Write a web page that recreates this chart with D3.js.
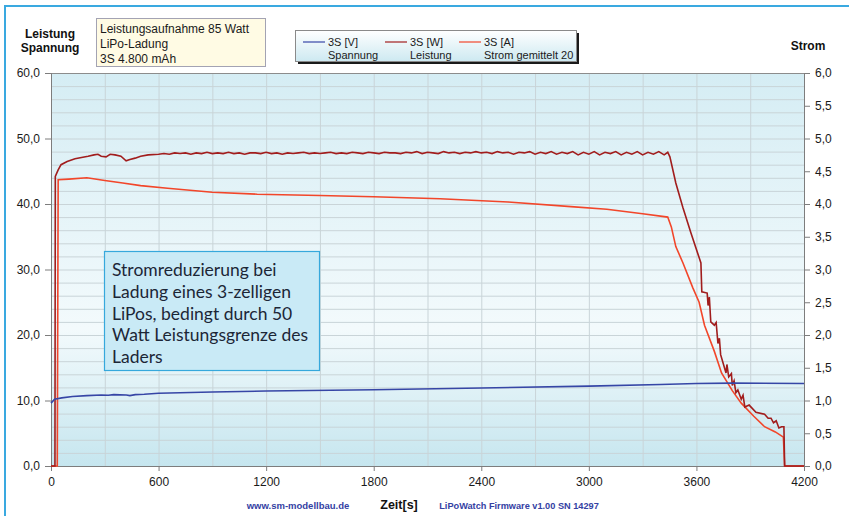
<!DOCTYPE html>
<html>
<head>
<meta charset="utf-8">
<script src="https://cdn.jsdelivr.net/npm/d3@7"></script>
<style>
  body { margin: 0; background: #fff; }
  svg { display: block; font-family: "Liberation Sans", Arial, sans-serif; }
</style>
</head>
<body>
<div id="chart"></div>
<script>
// Zeit [s] / Wert
var spannung = [
  [0, 9.6], [20, 10.2], [60, 10.4], [120, 10.6], [200, 10.75], [280, 10.85], [320, 10.8],
  [350, 10.9], [420, 10.85], [440, 10.75], [470, 10.9], [520, 10.95], [600, 11.1],
  [900, 11.3], [1200, 11.45], [1800, 11.65], [2400, 11.9], [3000, 12.2], [3400, 12.45],
  [3600, 12.6], [3800, 12.65], [4200, 12.6]
];

var leistung = [
  [0, 0], [22, 0], [24, 44.2], [40, 45.2], [56, 46.0], [90, 46.5], [134, 46.9], [170, 47.1],
  [207, 47.3], [240, 47.5], [262, 47.6], [280, 47.3], [307, 47.2], [330, 47.6], [357, 47.5],
  [390, 47.3], [419, 46.6], [440, 46.8], [469, 47.0], [500, 47.3], [542, 47.5], [600, 47.6],
  [630, 47.7], [660, 47.6], [690, 47.8], [720, 47.7], [750, 47.8], [780, 47.6], [810, 47.8],
  [840, 47.7], [870, 47.9], [900, 47.7], [930, 47.8], [960, 47.7], [990, 47.9], [1020, 47.7],
  [1050, 47.8], [1080, 47.6], [1110, 47.8], [1140, 47.8], [1170, 47.7], [1200, 47.9],
  [1230, 47.7], [1260, 47.8], [1290, 47.6], [1320, 47.8], [1350, 47.7], [1380, 47.8],
  [1410, 47.9], [1440, 47.7], [1470, 47.8], [1500, 47.7], [1530, 47.8], [1560, 47.9],
  [1590, 47.7], [1620, 47.8], [1650, 47.7], [1680, 47.9], [1710, 47.8], [1740, 47.7],
  [1770, 47.9], [1800, 47.8], [1830, 47.7], [1860, 47.9], [1890, 47.8], [1920, 47.8],
  [1950, 47.7], [1980, 47.9], [2010, 47.8], [2040, 48.0], [2070, 47.7], [2100, 47.9],
  [2130, 47.8], [2160, 47.7], [2190, 48.0], [2220, 47.8], [2250, 47.9], [2280, 47.7],
  [2310, 47.9], [2340, 47.8], [2370, 48.0], [2400, 47.8], [2430, 47.9], [2460, 47.7],
  [2490, 48.0], [2520, 47.8], [2550, 47.9], [2580, 47.6], [2610, 47.9], [2640, 47.8],
  [2670, 48.0], [2700, 47.6], [2730, 47.9], [2760, 47.7], [2790, 48.0], [2820, 47.6],
  [2850, 47.9], [2880, 47.7], [2910, 48.0], [2940, 47.5], [2970, 47.9], [3000, 47.6],
  [3030, 48.0], [3060, 47.5], [3090, 47.9], [3120, 47.7], [3150, 48.0], [3180, 47.5],
  [3210, 47.9], [3240, 47.6], [3270, 48.0], [3300, 47.5], [3330, 47.9], [3360, 47.6],
  [3390, 48.0], [3420, 47.5], [3440, 47.9],
  [3452, 47.2], [3485, 43.2], [3524, 39.5], [3569, 35.6], [3614, 31.9], [3625, 31.0],
  [3630, 26.6], [3660, 26.4], [3665, 24.5], [3672, 25.8], [3680, 22.0], [3700, 21.5],
  [3710, 21.9], [3720, 18.7], [3728, 19.5], [3735, 17.0], [3765, 14.2], [3770, 15.5],
  [3780, 13.6], [3795, 14.1], [3800, 12.3], [3810, 13.0], [3820, 11.2], [3831, 11.6],
  [3850, 10.2], [3860, 10.8], [3870, 9.0], [3894, 9.3], [3932, 8.2], [3980, 7.9],
  [4000, 7.3], [4016, 7.3], [4030, 6.6], [4045, 6.9], [4060, 5.8], [4075, 6.0],
  [4088, 6.0], [4092, 0], [4200, 0]
];

var strom = [
  [0, 0], [35, 0], [40, 4.37], [100, 4.38], [200, 4.40], [300, 4.36], [400, 4.32],
  [500, 4.28], [650, 4.24], [900, 4.18], [1150, 4.15], [1500, 4.13], [1800, 4.11],
  [2170, 4.08], [2550, 4.03], [2900, 3.96], [3100, 3.92], [3300, 3.85], [3440, 3.80],
  [3460, 3.65], [3485, 3.35], [3525, 3.10], [3580, 2.72], [3615, 2.50], [3645, 2.15],
  [3700, 1.75], [3740, 1.42], [3800, 1.15], [3850, 0.96], [3920, 0.76], [3980, 0.60],
  [4040, 0.52], [4085, 0.44], [4092, 0], [4200, 0]
];

var xTicks = [0, 600, 1200, 1800, 2400, 3000, 3600, 4200];
var leftTicks = [0, 10, 20, 30, 40, 50, 60];
var rightTicks = [0, 0.5, 1, 1.5, 2, 2.5, 3, 3.5, 4, 4.5, 5, 5.5, 6];

var infoLines = ["Leistungsaufnahme 85 Watt", "LiPo-Ladung", "3S 4.800 mAh"];
var noteLines = ["Stromreduzierung bei", "Ladung eines 3-zelligen", "LiPos, bedingt durch 50",
  "Watt Leistungsgrenze des", "Laders"];
var legendItems = [
  {name: "3S [V]", sub: "Spannung", color: "#3646a6"},
  {name: "3S [W]", sub: "Leistung", color: "#a11d1d"},
  {name: "3S [A]", sub: "Strom gemittelt 20", color: "#f2462a"}
];

var width = 849, height = 516;
var plot = {left: 51, right: 804, top: 73, bottom: 466};

var svg = d3.select("#chart").append("svg")
  .attr("width", width)
  .attr("height", height);

var x = d3.scaleLinear().domain([0, 4200]).range([plot.left, plot.right]);
var yL = d3.scaleLinear().domain([0, 60]).range([plot.bottom, plot.top]);
var yR = d3.scaleLinear().domain([0, 6]).range([plot.bottom, plot.top]);
var fmt = d3.format(".1f");
var comma = function(v) { return fmt(v).replace(".", ","); };

// outer frame
svg.append("path")
  .attr("d", "M5," + height + "V6H" + width)
  .attr("fill", "none")
  .attr("stroke", "#3aa9e0")
  .attr("stroke-width", 2);

// plot background
var defs = svg.append("defs");
var bg = defs.append("linearGradient").attr("id", "bg")
  .attr("x1", 0).attr("y1", 0).attr("x2", 0).attr("y2", 1);
bg.append("stop").attr("offset", "0%").attr("stop-color", "#d5edf4");
bg.append("stop").attr("offset", "65%").attr("stop-color", "#f3fafc");
bg.append("stop").attr("offset", "100%").attr("stop-color", "#c6e6ef");

var lg = defs.append("linearGradient").attr("id", "lg")
  .attr("x1", 0).attr("y1", 0).attr("x2", 0).attr("y2", 1);
lg.append("stop").attr("offset", "0%").attr("stop-color", "#ffffff");
lg.append("stop").attr("offset", "100%").attr("stop-color", "#cde9f1");

svg.append("rect")
  .attr("x", plot.left).attr("y", plot.top)
  .attr("width", plot.right - plot.left).attr("height", plot.bottom - plot.top)
  .attr("fill", "url(#bg)");

// grid
svg.append("g").selectAll("line")
  .data(d3.range(2, 60, 2))
  .join("line")
  .attr("x1", plot.left).attr("x2", plot.right)
  .attr("y1", d => yL(d) + 0.5).attr("y2", d => yL(d) + 0.5)
  .attr("stroke", "#c9d4d8").attr("stroke-width", 1);

svg.append("g").selectAll("line")
  .data(d3.range(300, 4200, 300))
  .join("line")
  .attr("x1", d => x(d) + 0.5).attr("x2", d => x(d) + 0.5)
  .attr("y1", plot.top).attr("y2", plot.bottom)
  .attr("stroke", "#c9d4d8").attr("stroke-width", 1);

// plot frame
svg.append("line")
  .attr("x1", plot.left).attr("x2", plot.right)
  .attr("y1", plot.top + 0.5).attr("y2", plot.top + 0.5)
  .attr("stroke", "#8c8c8c");

// axes
var axL = svg.append("g")
  .attr("transform", "translate(" + plot.left + ",0)")
  .call(d3.axisLeft(yL).tickValues(leftTicks).tickFormat(comma).tickSize(6).tickPadding(5));
var axR = svg.append("g")
  .attr("transform", "translate(" + plot.right + ",0)")
  .call(d3.axisRight(yR).tickValues(rightTicks).tickFormat(comma).tickSize(6).tickPadding(5));
var axB = svg.append("g")
  .attr("transform", "translate(0," + plot.bottom + ")")
  .call(d3.axisBottom(x).tickValues(xTicks).tickFormat(d3.format("d")).tickSize(5).tickPadding(6));

[axL, axR, axB].forEach(function(a) {
  a.select(".domain").attr("stroke", "#7d7d7d");
  a.selectAll(".tick line").attr("stroke", "#7d7d7d");
  a.selectAll("text")
    .attr("font-family", "'Liberation Sans', Arial, sans-serif")
    .attr("font-size", 12)
    .attr("fill", "#1a1a1a");
});

// series
var lineL = d3.line().x(d => x(d[0])).y(d => yL(d[1]));
var lineR = d3.line().x(d => x(d[0])).y(d => yR(d[1]));

svg.append("path").datum(strom)
  .attr("d", lineR).attr("fill", "none")
  .attr("stroke", "#f2462a").attr("stroke-width", 1.6);
svg.append("path").datum(leistung)
  .attr("d", lineL).attr("fill", "none")
  .attr("stroke", "#a11d1d").attr("stroke-width", 1.6);
svg.append("path").datum(spannung)
  .attr("d", lineL).attr("fill", "none")
  .attr("stroke", "#3646a6").attr("stroke-width", 1.6);

// axis titles
svg.append("text").attr("x", 50).attr("y", 38).attr("text-anchor", "middle")
  .attr("font-size", 12).attr("font-weight", "bold").attr("fill", "#111").text("Leistung");
svg.append("text").attr("x", 50).attr("y", 52).attr("text-anchor", "middle")
  .attr("font-size", 12).attr("font-weight", "bold").attr("fill", "#111").text("Spannung");
svg.append("text").attr("x", 808).attr("y", 50).attr("text-anchor", "middle")
  .attr("font-size", 12).attr("font-weight", "bold").attr("fill", "#111").text("Strom");

// info box
svg.append("rect")
  .attr("x", 96.5).attr("y", 18.5).attr("width", 169).attr("height", 48)
  .attr("fill", "#fffbe4").attr("stroke", "#a3a3b3");
svg.append("g").selectAll("text")
  .data(infoLines)
  .join("text")
  .attr("x", 100).attr("y", (d, i) => 33 + i * 15)
  .attr("font-size", 12).attr("fill", "#1a1a1a")
  .text(d => d);

// legend
svg.append("rect")
  .attr("x", 298).attr("y", 33).attr("width", 281).attr("height", 31)
  .attr("fill", "#1a1a1a");
svg.append("rect")
  .attr("x", 295.5).attr("y", 30.5).attr("width", 281).attr("height", 31)
  .attr("fill", "url(#lg)").attr("stroke", "#8a8a8a");
var leg = svg.append("g").selectAll("g")
  .data(legendItems)
  .join("g")
  .attr("transform", (d, i) => "translate(" + [303, 385, 459][i] + ",0)");
leg.append("line")
  .attr("x1", 0).attr("x2", 22).attr("y1", 42).attr("y2", 42)
  .attr("stroke", d => d.color).attr("stroke-width", 1.2);
leg.append("text").attr("x", 25).attr("y", 46)
  .attr("font-size", 11).attr("fill", "#1a1a1a").text(d => d.name);
leg.append("text").attr("x", 25).attr("y", 59)
  .attr("font-size", 11).attr("fill", "#1a1a1a").text(d => d.sub);

// annotation
svg.append("rect")
  .attr("x", 104.5).attr("y", 251.5).attr("width", 215).attr("height", 119)
  .attr("fill", "#c9eaf6").attr("stroke", "#36a8dc").attr("stroke-width", 1.2);
svg.append("g").selectAll("text")
  .data(noteLines)
  .join("text")
  .attr("x", 112).attr("y", (d, i) => 276 + i * 21.8)
  .attr("font-family", "Lato, 'Open Sans', sans-serif")
  .attr("font-size", 17.5).attr("fill", "#1c2636")
  .text(d => d);

// footer
svg.append("text").attr("x", 298).attr("y", 509).attr("text-anchor", "middle")
  .attr("font-size", 9.5).attr("font-weight", "bold").attr("fill", "#3441a3")
  .text("www.sm-modellbau.de");
svg.append("text").attr("x", 399).attr("y", 509).attr("text-anchor", "middle")
  .attr("font-size", 12.5).attr("font-weight", "bold").attr("fill", "#111")
  .text("Zeit[s]");
svg.append("text").attr("x", 519).attr("y", 509).attr("text-anchor", "middle")
  .attr("font-size", 9.2).attr("font-weight", "bold").attr("fill", "#3441a3")
  .text("LiPoWatch Firmware v1.00 SN 14297");
</script>
</body>
</html>
